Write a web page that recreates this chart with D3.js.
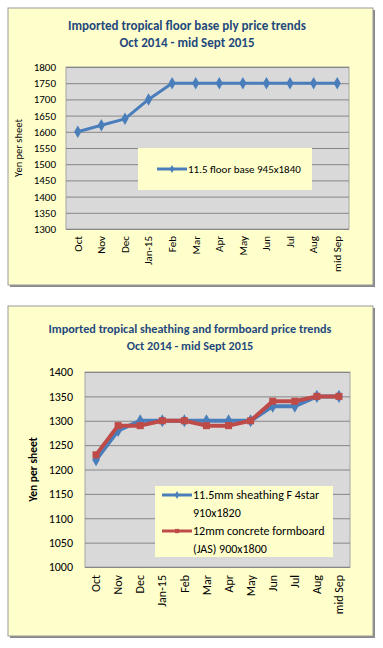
<!DOCTYPE html>
<html><head><meta charset="utf-8">
<script src="https://cdn.jsdelivr.net/npm/d3@7"></script>
<style>body{margin:0;background:#fff;}svg{display:block;}</style>
</head><body>
<svg id="c" width="383" height="648"></svg>
<script>
const categories = ["Oct","Nov","Dec","Jan-15","Feb","Mar","Apr","May","Jun","Jul","Aug","mid Sep"];
const floorBase = [1600,1620,1640,1700,1750,1750,1750,1750,1750,1750,1750,1750];
const sheathing = [1220,1280,1300,1300,1300,1300,1300,1300,1330,1330,1350,1350];
const formboard = [1230,1290,1290,1300,1300,1290,1290,1300,1340,1340,1350,1350];
const ticks1 = [1300,1350,1400,1450,1500,1550,1600,1650,1700,1750,1800];
const ticks2 = [1000,1050,1100,1150,1200,1250,1300,1350,1400];
const title1 = ["Imported tropical floor base ply price trends","Oct 2014 - mid Sept 2015"];
const title2 = ["Imported tropical sheathing and formboard price trends","Oct 2014 - mid Sept 2015"];
const yLabel = "Yen per sheet";
const legend1 = [["11.5 floor base 945x1840"]];
const legend2 = [["11.5mm sheathing F 4star","910x1820"],["12mm concrete formboard","(JAS) 900x1800"]];

const svg = d3.select("#c");
const font = "Calibri, Carlito, 'Liberation Sans', Arial, sans-serif";
const BLUE = "#4A7EBB", RED = "#BE4B48", TITLE = "#1F497D";

function frame(y0, h){
  svg.append("rect").attr("x",10).attr("y",y0+2).attr("width",365).attr("height",h).attr("fill","#8a8a8a");
  svg.append("rect").attr("x",8).attr("y",y0).attr("width",365).attr("height",h)
    .attr("fill","#FFFFCC").attr("stroke","#9a9a9a").attr("stroke-width",1);
}

function chart(o){
  frame(o.fy, o.fh);
  const g = svg.append("g");
  o.title.forEach((t,i)=> g.append("text").attr("x",o.tx).attr("y",o.ty+i*17)
    .attr("text-anchor","middle").attr("font-family",font).attr("font-weight","bold")
    .attr("font-size",o.tfs).attr("fill",TITLE).text(t));
  const x = d3.scaleBand().domain(categories).range([o.x0,o.x1]);
  const y = d3.scaleLinear().domain([o.ticks[0],o.ticks[o.ticks.length-1]]).range([o.y1,o.y0]);
  g.append("rect").attr("x",o.x0).attr("y",o.y0).attr("width",o.x1-o.x0).attr("height",o.y1-o.y0)
    .attr("fill","#D9D9D9").attr("stroke","#a6a6a6");
  const ya = g.append("g").attr("transform",`translate(${o.x0},0)`)
    .call(d3.axisLeft(y).tickValues(o.ticks).tickSize(-(o.x1-o.x0)).tickPadding(o.tpad).tickFormat(d3.format("d")));
  ya.select(".domain").remove();
  ya.selectAll("line").attr("stroke","#868686").attr("stroke-width",1);
  ya.selectAll("text").attr("font-family",font).attr("font-size",o.fs).attr("fill","#000");
  const xa = g.append("g").attr("transform",`translate(0,${o.y1})`)
    .call(d3.axisBottom(x).tickSize(0).tickPadding(0));
  xa.select(".domain").remove();
  xa.selectAll("text").attr("font-family",font).attr("font-size",o.fs).attr("fill","#000")
    .attr("text-anchor","end").attr("dy","0.35em")
    .attr("transform",`translate(0,${o.xlo}) rotate(-90)`).attr("x",0).attr("y",0);
  g.append("text").attr("transform",`translate(${o.ylx},${(o.y0+o.y1)/2}) rotate(-90)`)
    .attr("text-anchor","middle").attr("font-family",font).attr("font-size",o.yls)
    .attr("font-weight",o.ylw).text(yLabel);
  o.series.forEach(s=>{
    const line = d3.line().x((d,i)=>x(categories[i])+x.bandwidth()/2).y(d=>y(d));
    g.append("path").datum(s.values).attr("d",line).attr("fill","none")
      .attr("stroke",s.color).attr("stroke-width",o.lw).attr("stroke-linejoin","round");
    const sym = d3.symbol().type(s.shape).size(o.ms);
    g.selectAll(null).data(s.values).join("path").attr("d",sym)
      .attr("transform",(d,i)=>`translate(${x(categories[i])+x.bandwidth()/2},${y(d)})`)
      .attr("fill",s.color);
  });
  // legend
  const L = o.leg;
  g.append("rect").attr("x",L.x).attr("y",L.y).attr("width",L.w).attr("height",L.h).attr("fill","#FFFFCC");
  o.series.forEach((s,i)=>{
    const ly = L.y + L.pad + i*L.step;
    g.append("line").attr("x1",L.x+L.lx).attr("x2",L.x+L.lx+30).attr("y1",ly).attr("y2",ly)
      .attr("stroke",s.color).attr("stroke-width",3);
    g.append("path").attr("d",d3.symbol().type(s.shape).size(18)())
      .attr("transform",`translate(${L.x+L.lx+15},${ly})`).attr("fill",s.color);
    s.label.forEach((t,j)=> g.append("text").attr("x",L.x+L.lx+31).attr("y",ly+j*L.lh)
      .attr("dy","0.35em").attr("font-family",font).attr("font-size",L.fs).attr("fill","#000").text(t));
  });
}

chart({fy:8, fh:277, title:title1, tfs:13, tx:187, ty:30, x0:66, x1:349, y0:67, y1:229,
  ticks:ticks1, tpad:10, fs:11, xlo:7, ylx:22, yls:10.5, ylw:"normal", lw:3, ms:45,
  series:[{values:floorBase,color:BLUE,shape:d3.symbolDiamond,label:legend1[0]}],
  leg:{x:138,y:148,w:174,h:42,pad:21,step:0,lx:19,lh:0,fs:11}});

chart({fy:306, fh:330, title:title2, tfs:12.2, tx:190, ty:333, x0:85, x1:350, y0:372, y1:567,
  ticks:ticks2, tpad:12, fs:12, xlo:8, ylx:37, yls:11.5, ylw:"bold", lw:4, ms:50,
  series:[{values:sheathing,color:BLUE,shape:d3.symbolDiamond,label:legend2[0]},
          {values:formboard,color:RED,shape:d3.symbolSquare,label:legend2[1]}],
  leg:{x:155,y:486,w:178,h:71,pad:9,step:36,lx:7,lh:18,fs:12}});
</script>
</body></html>
